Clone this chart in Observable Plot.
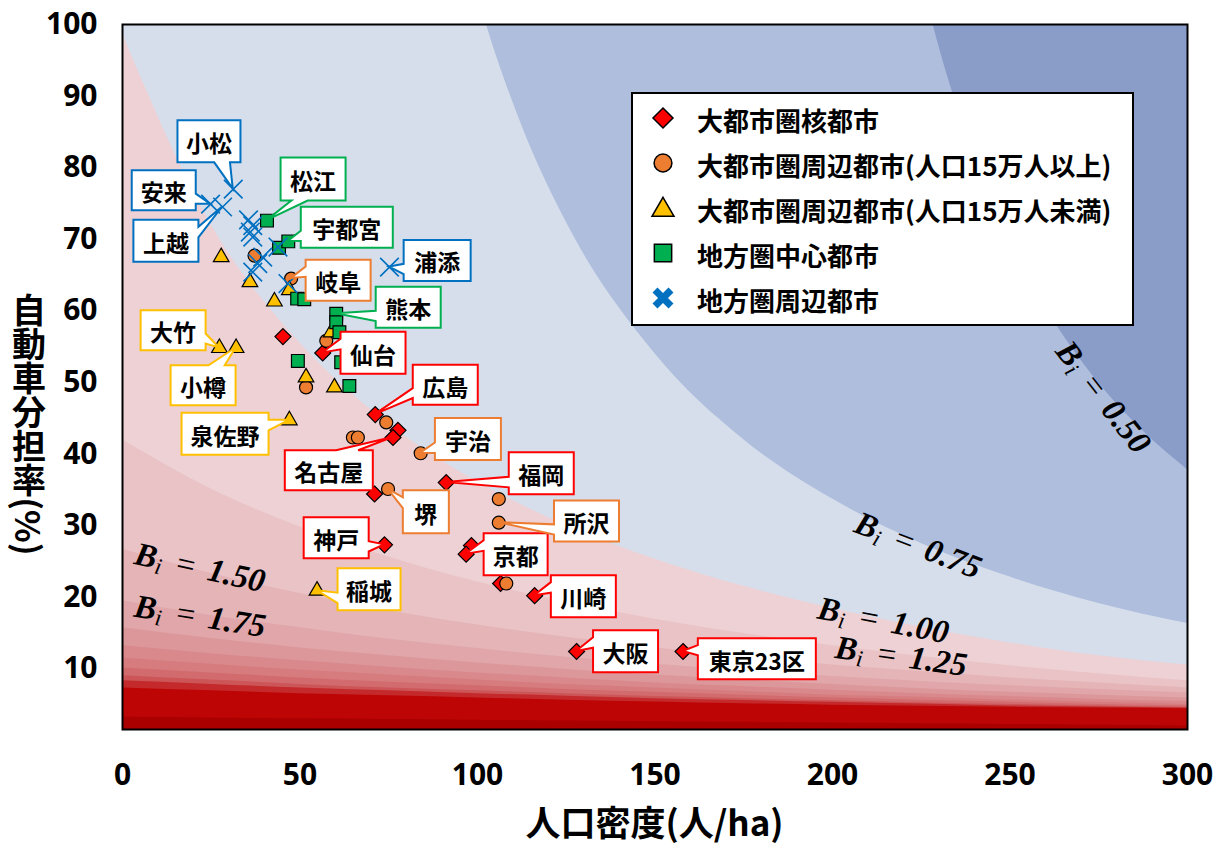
<!DOCTYPE html>
<html><head><meta charset="utf-8">
<script src="https://cdn.jsdelivr.net/npm/d3@7"></script>
<script src="https://cdn.jsdelivr.net/npm/@observablehq/plot@0.6"></script>
<style>body{margin:0;background:#fff;} svg{display:block}</style>
</head><body><div id="chart"></div>
<script>
// ---------------- data ----------------
const seriesNames = ["大都市圏核都市","大都市圏周辺都市(人口15万人以上)","大都市圏周辺都市(人口15万人未満)","地方圏中心都市","地方圏周辺都市"];
const xTicks = [0,50,100,150,200,250,300];
const yTicks = [10,20,30,40,50,60,70,80,90,100];
const xTitle = "人口密度(人/ha)";
const yTitle = "自動車分担率(%)";

// 大都市圏核都市
const metroCore = [
  {name:"", x:45.2, y:56.4},
  {name:"仙台", x:56.4, y:54.1},
  {name:"広島", x:71.2, y:45.5},
  {name:"", x:77.6, y:43.3},
  {name:"名古屋", x:76.2, y:42.3},
  {name:"", x:71.0, y:34.4},
  {name:"福岡", x:91.2, y:36.0},
  {name:"神戸", x:73.8, y:27.3},
  {name:"", x:98.3, y:27.2},
  {name:"京都", x:96.8, y:26.0},
  {name:"", x:106.5, y:21.9},
  {name:"川崎", x:116.1, y:20.2},
  {name:"大阪", x:127.9, y:12.4},
  {name:"東京23区", x:157.9, y:12.4}
];
// 大都市圏周辺都市(人口15万人以上)
const metroLarge = [
  {name:"", x:37.2, y:67.7},
  {name:"岐阜", x:47.5, y:64.5},
  {name:"", x:57.4, y:55.8},
  {name:"", x:51.7, y:49.3},
  {name:"", x:74.3, y:44.4},
  {name:"", x:64.9, y:42.3},
  {name:"", x:66.3, y:42.3},
  {name:"宇治", x:84.0, y:40.1},
  {name:"堺", x:74.8, y:35.1},
  {name:"", x:106.0, y:33.7},
  {name:"所沢", x:106.0, y:30.4},
  {name:"", x:108.1, y:21.9}
];
// 大都市圏周辺都市(人口15万人未満)
const metroSmall = [
  {name:"", x:27.8, y:67.5},
  {name:"", x:35.9, y:64.0},
  {name:"", x:42.8, y:61.3},
  {name:"", x:47.0, y:62.9},
  {name:"大竹", x:27.3, y:54.8},
  {name:"小樽", x:32.0, y:54.8},
  {name:"", x:58.8, y:57.0},
  {name:"", x:51.7, y:50.7},
  {name:"", x:59.7, y:49.3},
  {name:"泉佐野", x:47.0, y:44.7},
  {name:"稲城", x:54.8, y:20.9}
];
// 地方圏中心都市
const regionalCenter = [
  {name:"松江", x:40.7, y:72.6},
  {name:"", x:44.1, y:68.8},
  {name:"宇都宮", x:46.7, y:69.7},
  {name:"", x:49.2, y:61.7},
  {name:"", x:51.2, y:61.6},
  {name:"熊本", x:60.2, y:59.6},
  {name:"", x:60.2, y:58.4},
  {name:"", x:61.1, y:57.0},
  {name:"", x:61.6, y:52.8},
  {name:"", x:49.4, y:53.0},
  {name:"", x:63.9, y:49.5}
];
// 地方圏周辺都市
const regionalOuter = [
  {name:"小松", x:31.2, y:77.0},
  {name:"安来", x:24.8, y:74.9},
  {name:"上越", x:28.2, y:74.5},
  {name:"", x:35.5, y:72.7},
  {name:"", x:36.7, y:71.9},
  {name:"", x:36.0, y:71.0},
  {name:"", x:36.7, y:70.3},
  {name:"", x:39.5, y:67.5},
  {name:"", x:38.1, y:66.6},
  {name:"", x:36.7, y:65.4},
  {name:"", x:43.8, y:68.9},
  {name:"", x:46.6, y:63.8},
  {name:"浦添", x:75.2, y:66.1}
];

// B_i contour boundaries (auto share % at each density), read from the background
const bandX = [0,25,50,75,100,125,150,175,200,225,250,275,300];
const level0_50x = [0,175,200,212.5,225,237.5,250,262.5,275,287.5,300];
const level0_50 = [1000,1000,203,141,106.9,84.9,69.6,58.5,49.9,43.2,37.8];
const level0_75x = [0,50,75,87.5,100,112.5,125,150,175,200,225,250,275,300];
const level0_75 = [600,424,172.7,130.9,104.3,85.9,72.4,54.0,42.0,33.7,27.5,22.8,19.1,16.3];
const level1_00 = [98.7,72.0,55.5,44.2,36.1,30.0,25.3,21.5,18.4,15.8,13.6,11.8,10.5];
const level1_25 = [42.0,35.1,29.8,25.6,22.1,19.3,16.9,14.9,13.2,11.7,10.4,9.3,8.3];
const level1_50 = [26.7,23.3,20.5,18.1,16.1,14.4,12.9,11.7,10.5,9.6,8.7,8.0,7.3];
const level1_75 = [19.5,17.4,15.7,14.1,12.8,11.6,10.6,9.7,8.9,8.2,7.6,7.1,6.6];
const level2_00 = [15.7,14.2,12.9,11.8,10.8,9.9,9.1,8.4,7.8,7.2,6.7,6.3,5.9];
const level2_25 = [13.2,12.1,11.1,10.2,9.4,8.7,8.0,7.5,7.0,6.5,6.1,5.7,5.4];
const level2_50 = [11.5,10.6,9.8,9.1,8.4,7.8,7.3,6.8,6.3,6.0,5.6,5.3,5.0];
const level2_75 = [10.1,9.4,8.7,8.1,7.6,7.1,6.7,6.3,5.9,5.6,5.3,5.0,4.8];
const level3_00 = [9.0,8.4,7.8,7.3,6.9,6.5,6.1,5.8,5.5,5.25,5.0,4.8,4.6];
const level3_25 = [8.3,7.8,7.3,6.9,6.5,6.15,5.8,5.55,5.3,5.05,4.8,4.65,4.5];
const level3_50 = [7.3,6.9,6.5,6.2,5.9,5.6,5.35,5.1,4.9,4.75,4.6,4.5,4.4];
const levelDeep = [3.2,3.1,3.0,2.9,2.8,2.7,2.6,2.5,2.4,2.3,2.2,2.1,2.0];

const levelLabelTexts = ["0.50","0.75","1.00","1.25","1.50","1.75"];

// ---------------- layout / style (not data) ----------------
const levelLabelLayout = [
  {x:276.5, y:47.9, rotate:52},
  {x:224.3, y:27.2, rotate:21},
  {x:214.5, y:16.7, rotate:11},
  {x:219.5, y:11.7, rotate:8},
  {x:22.0, y:24.1, rotate:12.5},
  {x:22.0, y:17.3, rotate:9}
];
const calloutLayout = [
  {name:"小松", dx:-23.8, dy:-47.3, w:63, h:42},
  {name:"安来", dx:-46.3, dy:-13.3, w:64, h:40},
  {name:"上越", dx:-56.2, dy:34.3, w:65, h:42},
  {name:"松江", dx:46.6, dy:-41, w:65, h:43},
  {name:"宇都宮", dx:59, dy:-13.5, w:92, h:41},
  {name:"浦添", dx:48.2, dy:-6.2, w:67, h:41},
  {name:"岐阜", dx:47.5, dy:2.2, w:65, h:41},
  {name:"熊本", dx:72.5, dy:-5.8, w:65, h:41},
  {name:"大竹", dx:-45.8, dy:-17.3, w:65, h:40},
  {name:"仙台", dx:50.8, dy:0.3, w:65, h:42},
  {name:"小樽", dx:-32.5, dy:37.7, w:65, h:40},
  {name:"広島", dx:70.5, dy:-29.3, w:65, h:40},
  {name:"泉佐野", dx:-63.8, dy:14, w:87, h:42},
  {name:"宇治", dx:47.7, dy:-13.7, w:66, h:42},
  {name:"名古屋", dx:-63.7, dy:33.3, w:88, h:40},
  {name:"福岡", dx:95.5, dy:-8.7, w:65, h:42},
  {name:"堺", dx:38.3, dy:23.2, w:46, h:43},
  {name:"所沢", dx:88.2, dy:-1.2, w:65, h:41},
  {name:"神戸", dx:-47.8, dy:-6.5, w:65, h:41},
  {name:"京都", dx:50, dy:0.7, w:64, h:42},
  {name:"稲城", dx:52.5, dy:-1, w:63, h:42},
  {name:"川崎", dx:49.2, dy:1, w:65, h:42},
  {name:"大阪", dx:49.5, dy:0.3, w:65, h:42},
  {name:"東京23区", dx:74.3, dy:7.8, w:118, h:41}
];
const layoutByName = new Map(calloutLayout.map(d => [d.name, d]));

const series = [
  {label: seriesNames[0], data: metroCore, symbol: "diamond2", r: 7.2, fill: "#FF0000", color: "#FF0000"},
  {label: seriesNames[1], data: metroLarge, symbol: "circle", r: 6.5, fill: "#ED7D31", color: "#ED7D31"},
  {label: seriesNames[2], data: metroSmall, symbol: "triangle", r: 5.8, fill: "#FFC000", color: "#FFC000"},
  {label: seriesNames[3], data: regionalCenter, symbol: "square", r: 7.2, fill: "#00B050", color: "#00B050"},
  {label: seriesNames[4], data: regionalOuter, symbol: "times", r: 8.5, fill: null, color: "#0070C0"}
];

const bands = [
  {xs: level0_50x, ys: level0_50, fill: "#AEBEDC"},
  {xs: level0_75x, ys: level0_75, fill: "#D6DEEC"},
  {xs: bandX, ys: level1_00, fill: "#EED1D4"},
  {xs: bandX, ys: level1_25, fill: "#E9C3C6"},
  {xs: bandX, ys: level1_50, fill: "#E4B4B7"},
  {xs: bandX, ys: level1_75, fill: "#E0A6A9"},
  {xs: bandX, ys: level2_00, fill: "#DC979A"},
  {xs: bandX, ys: level2_25, fill: "#D9898C"},
  {xs: bandX, ys: level2_50, fill: "#D67C7F"},
  {xs: bandX, ys: level2_75, fill: "#D26B6E"},
  {xs: bandX, ys: level3_00, fill: "#CC5557"},
  {xs: bandX, ys: level3_25, fill: "#C42A2B"},
  {xs: bandX, ys: level3_50, fill: "#BE0505"},
  {xs: bandX, ys: levelDeep, fill: "#AA0000"}
];

const CJK = "'Noto Sans CJK JP', 'Noto Sans', sans-serif";

function calloutPath(x0,y0,x1,y1,px,py){
  const w=x1-x0,h=y1-y0,cx=(x0+x1)/2,cy=(y0+y1)/2;
  const dx=(px-cx)/w, dy=(py-cy)/h;
  let pts;
  if (Math.abs(dx) > Math.abs(dy)) {
    const [a,b] = py < cy ? [y0+h*2/12, y0+h*5/12] : [y0+h*7/12, y0+h*10/12];
    if (dx > 0) pts = [[x0,y0],[x1,y0],[x1,a],[px,py],[x1,b],[x1,y1],[x0,y1]];
    else pts = [[x0,y0],[x1,y0],[x1,y1],[x0,y1],[x0,b],[px,py],[x0,a]];
  } else {
    const [a,b] = px < cx ? [x0+w*2/12, x0+w*5/12] : [x0+w*7/12, x0+w*10/12];
    if (dy > 0) pts = [[x0,y0],[x1,y0],[x1,y1],[b,y1],[px,py],[a,y1],[x0,y1]];
    else pts = [[x0,y0],[a,y0],[px,py],[b,y0],[x1,y0],[x1,y1],[x0,y1]];
  }
  return "M" + pts.map(p => p.join(",")).join("L") + "Z";
}

function calloutsMark(index, scales) {
  const g = d3.create("svg:g");
  for (const s of series) {
    for (const d of s.data) {
      if (!d.name) continue;
      const L = layoutByName.get(d.name);
      const px = scales.x(d.x), py = scales.y(d.y);
      const cx = px + L.dx, cy = py + L.dy;
      const x0 = cx - L.w/2, x1 = cx + L.w/2, y0 = cy - L.h/2, y1 = cy + L.h/2;
      g.append("path").attr("d", calloutPath(x0,y0,x1,y1,px,py))
        .attr("fill","white").attr("stroke", s.color).attr("stroke-width",2).attr("stroke-linejoin","miter");
      g.append("text").attr("x",cx).attr("y",cy+1).attr("text-anchor","middle").attr("dominant-baseline","central")
        .attr("font-family", CJK).attr("font-size",23).attr("font-weight","bold").attr("fill","black").text(d.name);
    }
  }
  return g.node();
}

function levelLabelsMark(index, scales) {
  const g = d3.create("svg:g");
  levelLabelTexts.forEach((t, i) => {
    const L = levelLabelLayout[i];
    const text = g.append("text")
      .attr("transform", `translate(${scales.x(L.x)},${scales.y(L.y)}) rotate(${L.rotate})`)
      .attr("text-anchor","middle").attr("dominant-baseline","central")
      .attr("font-family","'Liberation Serif', 'DejaVu Serif', serif").attr("font-style","italic")
      .attr("font-weight","bold").attr("font-size",33).attr("fill","black");
    text.append("tspan").text("B");
    text.append("tspan").attr("font-size",23).attr("dy",8).attr("font-weight","normal").text("i");
    text.append("tspan").attr("dy",-8).attr("dx",12).attr("font-weight","normal").text("=");
    text.append("tspan").attr("dx",12).text(t);
  });
  return g.node();
}

function legendMark(index, scales, values, dim) {
  const g = d3.create("svg:g").attr("text-anchor","start");
  const lx = dim.marginLeft + 510, ly = dim.marginTop + 69, lw = 501, lh = 232;
  g.append("rect").attr("x",lx).attr("y",ly).attr("width",lw).attr("height",lh)
    .attr("fill","white").attr("stroke","black").attr("stroke-width",2);
  const shapes = [
    {type: d3.symbolDiamond2, size: 255},
    {type: d3.symbolCircle, size: 250},
    {type: d3.symbolTriangle, size: 210},
    {type: d3.symbolSquare, size: 300},
    null
  ];
  series.forEach((s, i) => {
    const cy = ly + 25 + i*45, cx = lx + 31;
    if (shapes[i]) {
      g.append("path").attr("transform",`translate(${cx},${cy + (i===2?2:0)})`)
        .attr("d", d3.symbol(shapes[i].type, shapes[i].size)())
        .attr("fill", s.fill).attr("stroke","black").attr("stroke-width",1.5);
    } else {
      g.append("path").attr("d",`M${cx-8},${cy-8}L${cx+8},${cy+8}M${cx-8},${cy+8}L${cx+8},${cy-8}`)
        .attr("stroke", s.color).attr("stroke-width",7).attr("fill","none");
    }
    g.append("text").attr("x", lx + 65).attr("y", cy + 1).attr("text-anchor","start").attr("dominant-baseline","central")
      .attr("font-family", CJK).attr("font-size",26).attr("font-weight","bold").attr("fill","black").text(s.label);
  });
  return g.node();
}

function titlesMark(index, scales, values, dim) {
  const g = d3.create("svg:g");
  const plotCx = dim.marginLeft + (dim.width - dim.marginLeft - dim.marginRight)/2;
  g.append("text").attr("x", plotCx).attr("y", dim.height - 10).attr("text-anchor","middle")
    .attr("font-family", CJK).attr("font-size",35).attr("font-weight","bold").attr("fill","black").text(xTitle);
  const plotCy = dim.marginTop + (dim.height - dim.marginTop - dim.marginBottom)/2;
  g.append("text").attr("x", 29).attr("y", plotCy + 48).attr("text-anchor","middle")
    .style("writing-mode","vertical-rl")
    .attr("font-family", CJK).attr("font-size",34).attr("font-weight","bold").attr("fill","black").text(yTitle);
  return g.node();
}

const bandMarks = bands.map(b => Plot.areaY(b.xs.map((x, i) => ({x, y: b.ys[i]})), {
  x: "x", y1: 0, y2: "y", fill: b.fill, curve: "monotone-x", clip: true
}));

const dotMarks = series.map(s => Plot.dot(s.data, s.symbol === "times"
  ? {x: "x", y: "y", symbol: "times", r: s.r, stroke: s.color, strokeWidth: 1.6}
  : {x: "x", y: "y", symbol: s.symbol, r: s.r, fill: s.fill, stroke: "black", strokeWidth: 1.2}));

const plot = Plot.plot({
  width: 1222, height: 846,
  marginLeft: 122, marginRight: 35, marginTop: 24, marginBottom: 117,
  style: {fontFamily: "'Open Sans', sans-serif", fontSize: "30px", fontWeight: "bold", color: "black", background: "white", overflow: "visible"},
  x: {domain: [0, 300], ticks: xTicks, tickSize: 0, tickPadding: 34, label: null},
  y: {domain: [1.5, 100], ticks: yTicks, tickSize: 0, tickPadding: 25, label: null},
  marks: [
    Plot.frame({fill: "#8A9CC8"}),
    ...bandMarks,
    Plot.frame({stroke: "black", strokeWidth: 2}),
    levelLabelsMark,
    ...dotMarks,
    calloutsMark,
    legendMark,
    titlesMark
  ]
});
document.getElementById("chart").append(plot);
</script></body></html>
